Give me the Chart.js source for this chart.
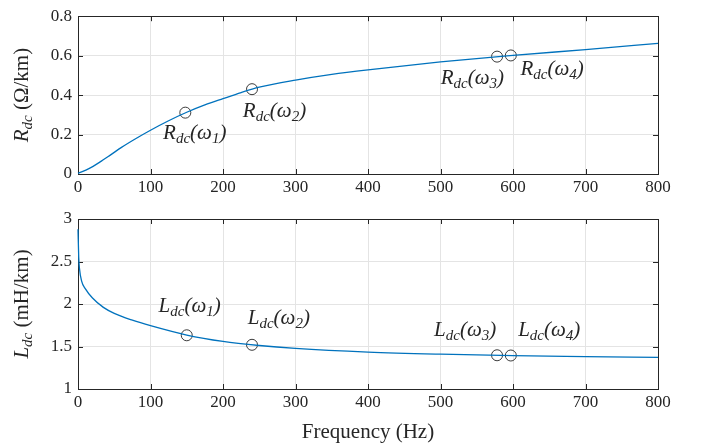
<!DOCTYPE html>
<html>
<head>
<meta charset="utf-8">
<script src="https://cdn.jsdelivr.net/npm/chart.js@4"></script>
<style>
  html, body { margin: 0; padding: 0; background: #fff; }
  #wrap { position: relative; width: 702px; height: 446px; }
  #topChart { position: absolute; left: 0; top: 0; }
  #botChart { position: absolute; left: 0; top: 200px; }
</style>
</head>
<body>
<div id="wrap">
  <canvas id="topChart" width="702" height="200"></canvas>
  <canvas id="botChart" width="702" height="246"></canvas>
</div>
<script>
'use strict';

// ── Data ───────────────────────────────────────────────────────────────────────
const freqR = [0, 15, 30, 45, 60, 80, 100, 125, 150, 175, 200, 225, 250, 300, 350, 400, 500, 600, 700, 800];
const rdc   = [0.003, 0.027, 0.06, 0.097, 0.135, 0.18, 0.222, 0.27, 0.313, 0.35, 0.382, 0.413, 0.44, 0.476, 0.505, 0.528, 0.568, 0.601, 0.631, 0.662];

const freqL = [0, 1, 2, 5, 10, 20, 35, 50, 75, 100, 150, 200, 250, 300, 400, 500, 600, 700, 800];
const ldc   = [2.88, 2.55, 2.42, 2.27, 2.18, 2.07, 1.96, 1.89, 1.81, 1.745, 1.635, 1.56, 1.512, 1.478, 1.435, 1.41, 1.393, 1.382, 1.372];

const markFreqR = [148, 240, 578, 597];
const markR     = [0.311, 0.43, 0.595, 0.601];
const markFreqL = [150, 240, 578, 597];
const markL     = [1.632, 1.52, 1.397, 1.394];

const omegaSubs = ['1', '2', '3', '4'];
// label anchors (data units, text centre)
const labelFreqR = [161, 271, 544, 654];
const labelR     = [0.196, 0.307, 0.474, 0.522];
const labelFreqL = [154, 277, 534, 650];
const labelL     = [1.95, 1.81, 1.67, 1.67];

const xTicks = [0, 100, 200, 300, 400, 500, 600, 700, 800];

// ── Style ──────────────────────────────────────────────────────────────────────
const SERIF = '"Liberation Serif", "DejaVu Serif", serif';
const INK = '#262626';
const LINE = '#0072BD';
const GRID = '#e4e4e4';
const BIG = 21, SMALL = 15;

function pts(xs, ys) {
  return xs.map((x, i) => ({ x, y: ys[i] }));
}

// text runs [{t, italic, sub}] drawn left to right from x on baseline y
function pieceWidth(ctx, pieces) {
  let w = 0;
  pieces.forEach(p => {
    ctx.font = `${p.italic ? 'italic ' : ''}${p.sub ? SMALL : BIG}px ${SERIF}`;
    w += ctx.measureText(p.t).width;
  });
  return w;
}
function drawPieces(ctx, pieces, x, y) {
  pieces.forEach(p => {
    ctx.font = `${p.italic ? 'italic ' : ''}${p.sub ? SMALL : BIG}px ${SERIF}`;
    ctx.fillText(p.t, x, p.sub ? y + 6 : y);
    x += ctx.measureText(p.t).width;
  });
}

function labelPieces(sym, n) {
  return [
    { t: sym, italic: true },
    { t: 'dc', italic: true, sub: true },
    { t: '(\u03C9', italic: true },
    { t: n, italic: true, sub: true },
    { t: ')', italic: true },
  ];
}

// ── Plugins ────────────────────────────────────────────────────────────────────
// frame + inward ticks on all four sides (drawn under the curve)
const boxPlugin = {
  id: 'box',
  beforeDatasetsDraw(chart) {
    const { ctx, chartArea: a, scales } = chart;
    ctx.save();
    ctx.strokeStyle = INK;
    ctx.lineWidth = 1;
    ctx.beginPath();
    const tl = 5;
    scales.x.ticks.forEach(t => {
      const px = Math.round(scales.x.getPixelForValue(t.value)) + 0.5;
      ctx.moveTo(px, a.bottom); ctx.lineTo(px, a.bottom - tl);
      ctx.moveTo(px, a.top); ctx.lineTo(px, a.top + tl);
    });
    scales.y.ticks.forEach(t => {
      const py = Math.round(scales.y.getPixelForValue(t.value)) + 0.5;
      ctx.moveTo(a.left, py); ctx.lineTo(a.left + tl, py);
      ctx.moveTo(a.right, py); ctx.lineTo(a.right - tl, py);
    });
    ctx.stroke();
    ctx.strokeRect(Math.round(a.left) + 0.5, Math.round(a.top) + 0.5,
      Math.round(a.right - a.left), Math.round(a.bottom - a.top));
    ctx.restore();
  }
};

const textPlugin = {
  id: 'richText',
  afterDraw(chart, args, opts) {
    const { ctx, scales } = chart;
    const a = chart.chartArea;
    ctx.save();
    ctx.fillStyle = INK;
    ctx.textBaseline = 'middle';
    ctx.textAlign = 'left';
    // point labels
    opts.lx.forEach((lx, i) => {
      const pieces = labelPieces(opts.sym, omegaSubs[i]);
      const w = pieceWidth(ctx, pieces);
      const cx = scales.x.getPixelForValue(lx);
      const cy = scales.y.getPixelForValue(opts.ly[i]);
      drawPieces(ctx, pieces, cx - w / 2, cy - 2);
    });
    // y axis title, rotated
    const title = [
      { t: opts.sym, italic: true },
      { t: 'dc', italic: true, sub: true },
      { t: ' ' + opts.unit },
    ];
    const w = pieceWidth(ctx, title);
    ctx.translate(24, (a.top + a.bottom) / 2);
    ctx.rotate(-Math.PI / 2);
    drawPieces(ctx, title, -w / 2, -2);
    ctx.restore();
    if (opts.xTitle) {
      ctx.save();
      ctx.fillStyle = INK;
      ctx.font = `${BIG}px ${SERIF}`;
      ctx.textAlign = 'center';
      ctx.textBaseline = 'middle';
      ctx.fillText(opts.xTitle, (a.left + a.right) / 2, chart.height - 14);
      ctx.restore();
    }
  }
};

// ── Chart factory ──────────────────────────────────────────────────────────────
function makeChart(id, cfg) {
  return new Chart(document.getElementById(id), {
    type: 'line',
    data: {
      datasets: [
        {
          data: pts(cfg.xs, cfg.ys),
          borderColor: LINE,
          borderWidth: 1.3,
          pointRadius: 0,
          cubicInterpolationMode: 'monotone',
          fill: false,
          clip: 2,
        },
        {
          data: pts(cfg.mx, cfg.my),
          showLine: false,
          pointRadius: 5.5,
          pointBorderColor: INK,
          pointBorderWidth: 0.9,
          pointBackgroundColor: 'rgba(0,0,0,0)',
        },
      ],
    },
    options: {
      responsive: false,
      animation: false,
      events: [],
      layout: { padding: { top: cfg.padTop, right: 44, left: 0, bottom: 0 } },
      plugins: {
        legend: { display: false },
        tooltip: { enabled: false },
        richText: cfg.text,
      },
      scales: {
        x: {
          type: 'linear',
          min: 0, max: 800,
          afterFit: s => { s.height = cfg.xAxisH; },
          afterBuildTicks: s => { s.ticks = xTicks.map(v => ({ value: v })); },
          grid: { color: GRID, drawTicks: false },
          border: { display: false },
          ticks: { color: INK, padding: 3, font: { family: SERIF, size: 17 }, maxRotation: 0 },
        },
        y: {
          min: cfg.yMin, max: cfg.yMax,
          afterFit: s => { s.width = 78; },
          afterBuildTicks: s => { s.ticks = cfg.yTicks.map(v => ({ value: v })); },
          grid: { color: GRID, drawTicks: false },
          border: { display: false },
          ticks: { color: INK, padding: 6, font: { family: SERIF, size: 17 }, callback: v => String(v) },
        },
      },
    },
    plugins: [boxPlugin, textPlugin],
  });
}

makeChart('topChart', {
  xs: freqR, ys: rdc, mx: markFreqR, my: markR,
  padTop: 7, xAxisH: 26,
  yMin: 0, yMax: 0.8, yTicks: [0, 0.2, 0.4, 0.6, 0.8],
  text: { sym: 'R', unit: '(\u03A9/km)', lx: labelFreqR, ly: labelR },
});

makeChart('botChart', {
  xs: freqL, ys: ldc, mx: markFreqL, my: markL,
  padTop: 19, xAxisH: 57,
  yMin: 1, yMax: 3, yTicks: [1, 1.5, 2, 2.5, 3],
  text: { sym: 'L', unit: '(mH/km)', lx: labelFreqL, ly: labelL, xTitle: 'Frequency (Hz)' },
});
</script>
</body>
</html>
